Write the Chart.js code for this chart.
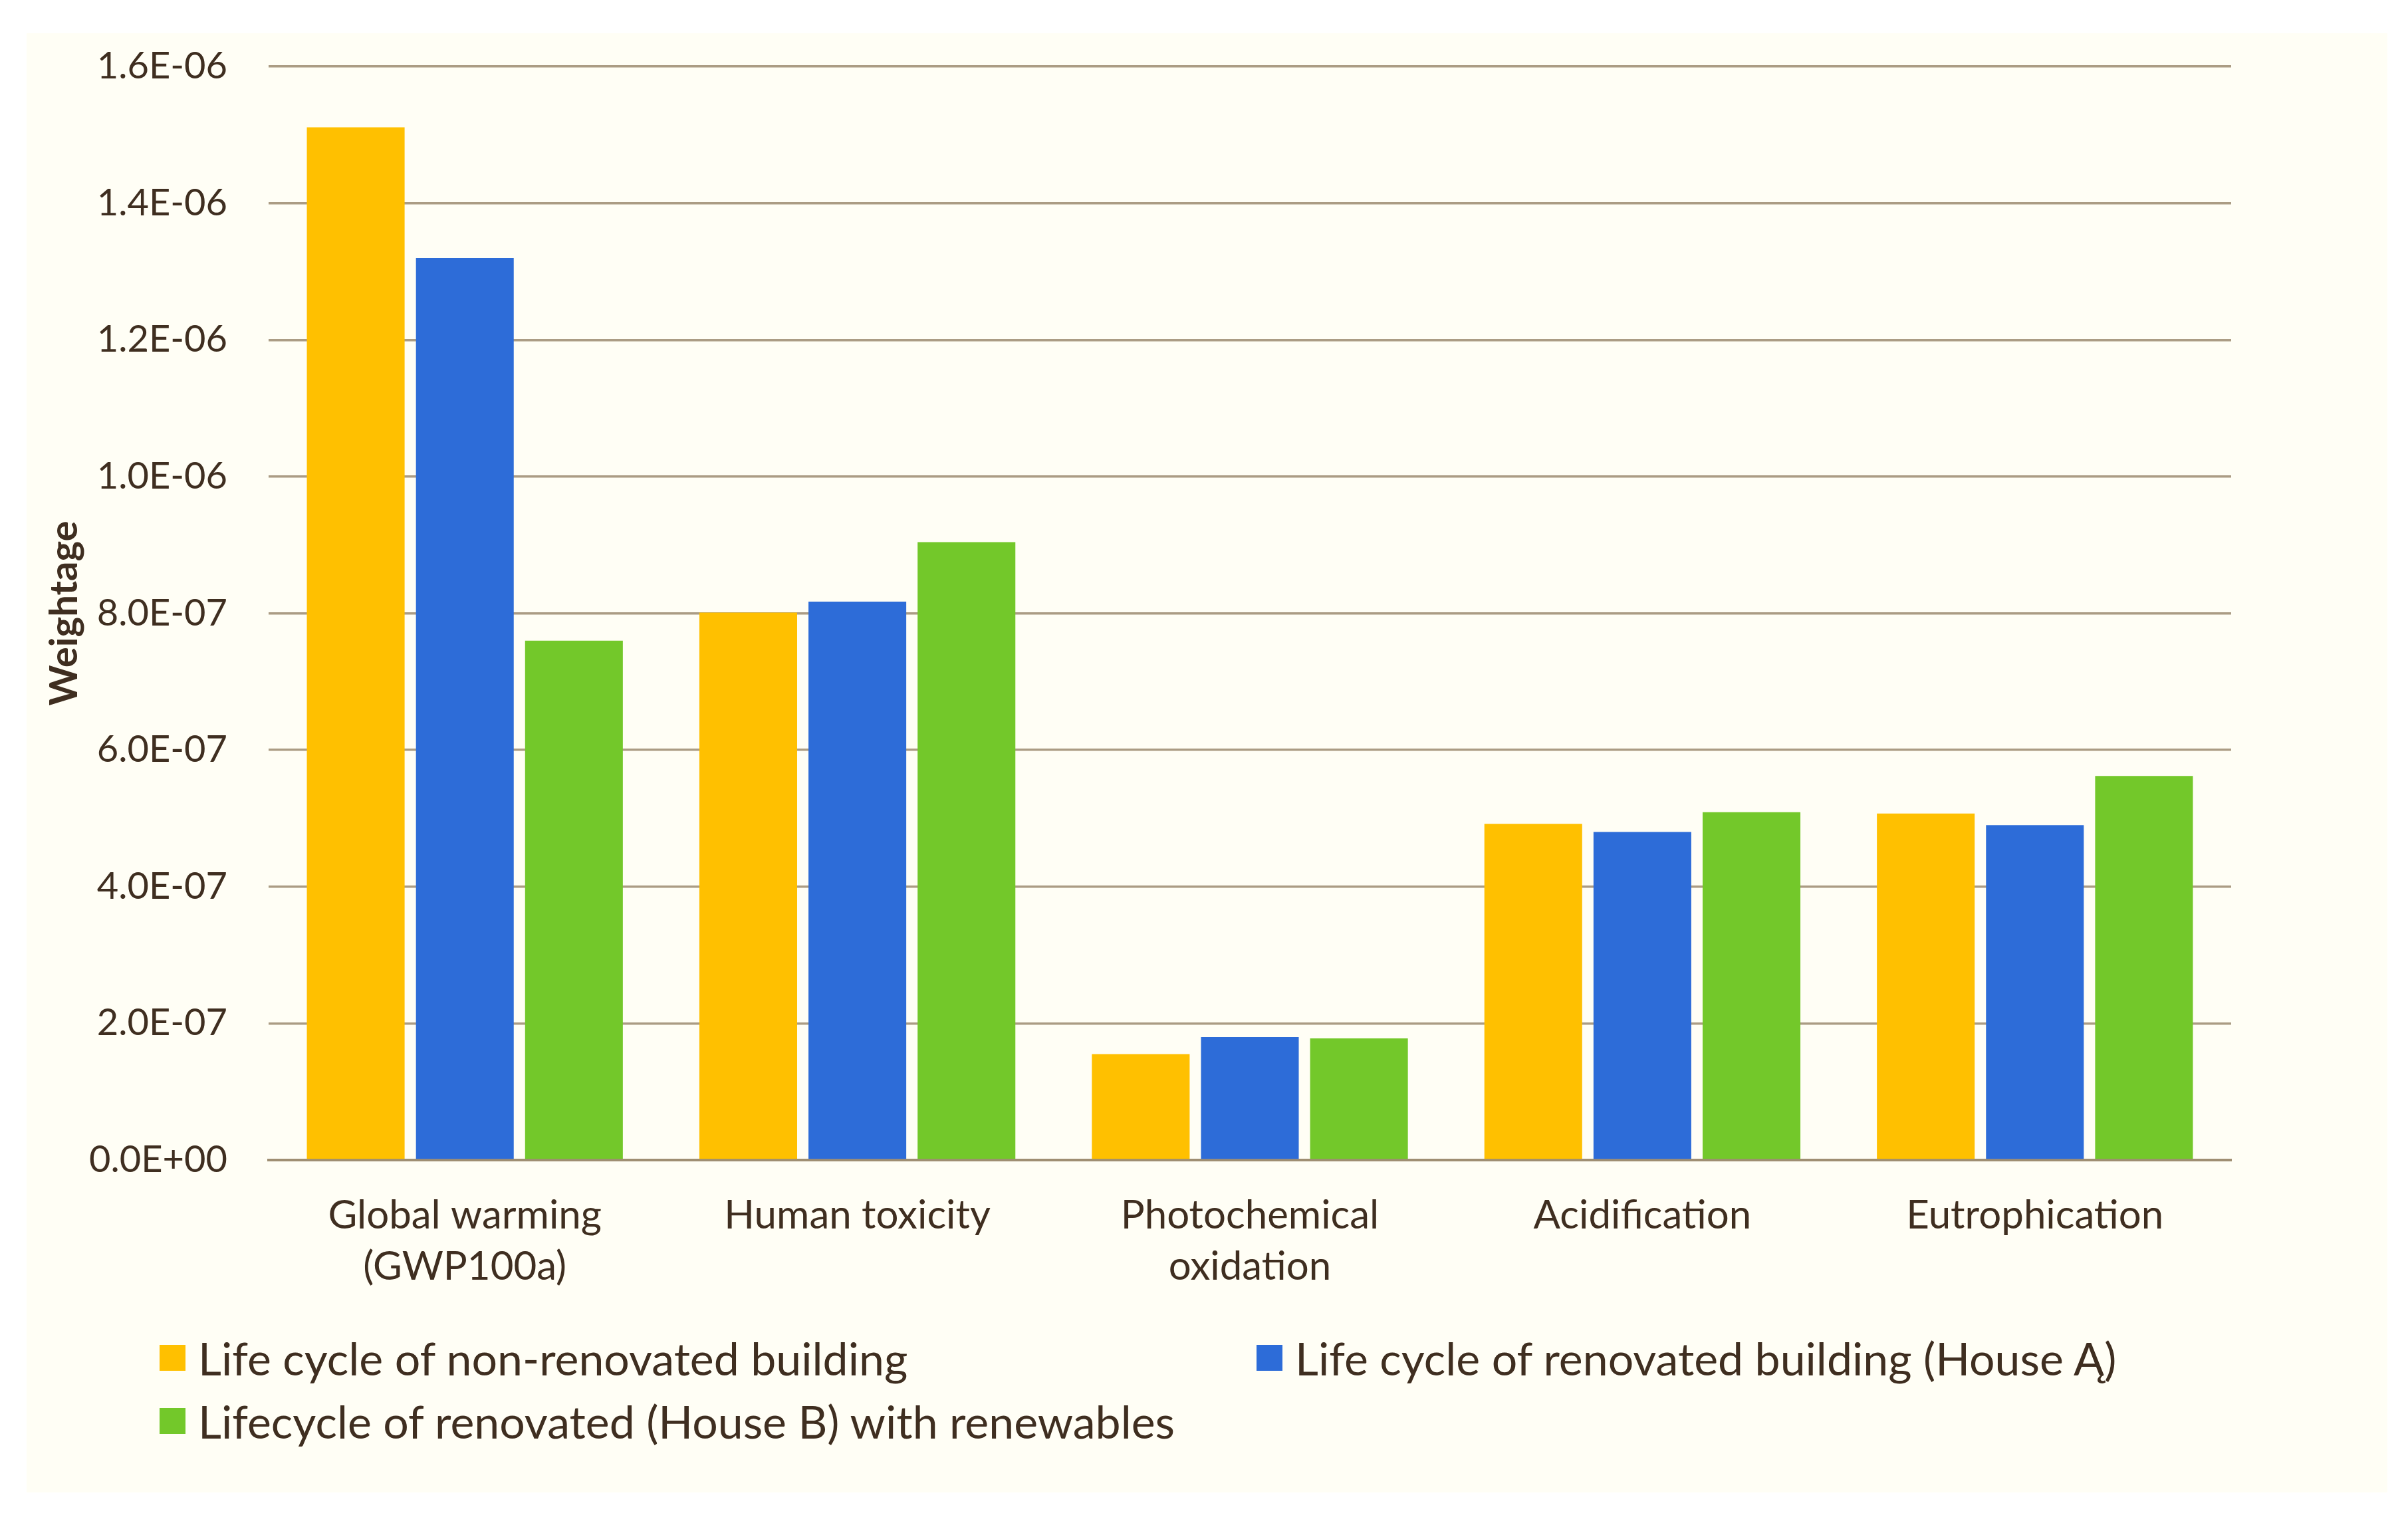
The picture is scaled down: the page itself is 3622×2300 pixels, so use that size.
<!DOCTYPE html>
<html>
<head>
<meta charset="utf-8">
<script src="https://cdn.jsdelivr.net/npm/chart.js@4.4.1/dist/chart.umd.min.js"></script>
<style>
  html, body { margin: 0; padding: 0; background: #ffffff; width: 3622px; height: 2300px; overflow: hidden; }
  #bg { position: absolute; left: 40px; top: 50px; width: 3551px; height: 2195px; background: #fffef5; }
  #wrap { position: absolute; left: 0; top: 0; width: 3622px; height: 2300px; }
  #legend { position: absolute; left: 0; top: 0; width: 3622px; height: 2300px; font-family: Lato, "Open Sans", sans-serif; color: #3f2e20; }
  .item { position: absolute; display: flex; align-items: center; height: 60px; font-size: 68px; white-space: nowrap; }
  .box { width: 39px; height: 39px; margin-right: 19px; flex: none; }
</style>
</head>
<body>
<div id="bg"></div>
<div id="wrap"><canvas id="c" width="3622" height="2300"></canvas></div>
<div id="legend"></div>
<script>
const categories = [["Global warming", "(GWP100a)"], "Human toxicity", ["Photochemical", "oxidation"], "Acidification", "Eutrophication"];
const seriesNames = ["Life cycle of non-renovated building", "Life cycle of renovated building (House Ą)", "Lifecycle of renovated (House B) with renewables"];
const nonRenovated = [1.511e-6, 0.801e-6, 0.155e-6, 0.492e-6, 0.507e-6];
const renovatedA   = [1.320e-6, 0.817e-6, 0.180e-6, 0.480e-6, 0.490e-6];
const renovatedB   = [0.760e-6, 0.904e-6, 0.178e-6, 0.509e-6, 0.562e-6];
const yTicks = ["0.0E+00", "2.0E-07", "4.0E-07", "6.0E-07", "8.0E-07", "1.0E-06", "1.2E-06", "1.4E-06", "1.6E-06"];
const colors = ["#ffc000", "#2d6cd8", "#73c82a"];
const textColor = "#3f2e20";

const seriesValues = [nonRenovated, renovatedA, renovatedB];
const datasets = seriesValues.map((vals, i) => ({
  label: seriesNames[i],
  data: vals,
  backgroundColor: colors[i],
  borderWidth: 0,
  categoryPercentage: 0.834,
  barPercentage: 0.896
}));

new Chart(document.getElementById('c'), {
  type: 'bar',
  data: { labels: categories, datasets },
  options: {
    responsive: false,
    animation: false,
    devicePixelRatio: 1,
    layout: { padding: { top: 100, right: 266, left: 0, bottom: 0 } },
    plugins: { legend: { display: false }, tooltip: { enabled: false } },
    scales: {
      x: {
        grid: { display: false, drawTicks: false },
        border: { display: true, color: "#9f8e72", width: 4 },
        ticks: { color: textColor, font: { family: "Lato", size: 60, lineHeight: 1.28 }, padding: 45, maxRotation: 0, autoSkip: false },
        afterFit: s => { s.height = 555; }
      },
      y: {
        min: 0, max: 1.6e-6,
        grid: { color: "#ab9c84", lineWidth: 3.5, drawTicks: false },
        border: { display: false },
        ticks: {
          stepSize: 2e-7,
          color: textColor,
          font: { family: "Lato", size: 56 },
          padding: 62,
          callback: (v, i) => yTicks[i]
        },
        title: { display: true, text: "Weightage", color: textColor, font: { family: "Lato", size: 58, weight: "bold" }, padding: { top: 62, bottom: 0 } },
        afterFit: s => { s.width = 404; }
      }
    }
  }
});

const legend = document.getElementById('legend');
const positions = [[240, 2012], [1890, 2012], [240, 2107]];
seriesNames.forEach((name, i) => {
  const d = document.createElement('div');
  d.className = 'item';
  d.style.left = positions[i][0] + 'px';
  d.style.top = positions[i][1] + 'px';
  const b = document.createElement('span');
  b.className = 'box';
  b.style.background = colors[i];
  const t = document.createElement('span');
  t.textContent = name;
  d.appendChild(b); d.appendChild(t);
  legend.appendChild(d);
});
</script>
</body>
</html>
